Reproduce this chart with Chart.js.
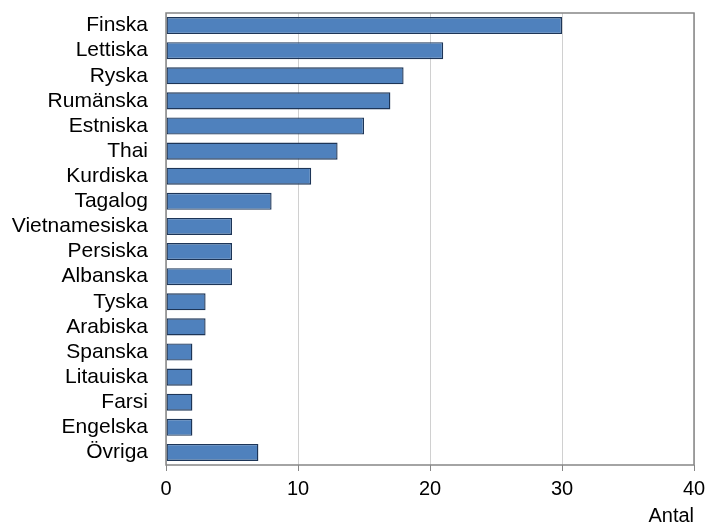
<!DOCTYPE html>
<html>
<head>
<meta charset="utf-8">
<script src="https://cdn.jsdelivr.net/npm/chart.js@4"></script>
<style>
html,body{margin:0;padding:0;background:#fff;}
#wrap{width:710px;height:526px;position:relative;}
</style>
</head>
<body>
<div id="wrap"><canvas id="c"></canvas></div>
<script>
const categories = ["Finska","Lettiska","Ryska","Rumänska","Estniska","Thai","Kurdiska","Tagalog","Vietnamesiska","Persiska","Albanska","Tyska","Arabiska","Spanska","Litauiska","Farsi","Engelska","Övriga"];
const values = [30,21,18,17,15,13,11,8,5,5,5,3,3,2,2,2,2,7];
const xTicks = [0,10,20,30,40];
const xTitle = "Antal";

const FONT = "'Liberation Sans', Arial, sans-serif";

const boxPlugin = {
  id: 'box',
  afterDatasetsDraw(chart) {
    const a = chart.chartArea, ctx = chart.ctx;
    ctx.save();
    ctx.strokeStyle = '#868686';
    ctx.lineWidth = 1.5;
    ctx.strokeRect(a.left, a.top, a.right - a.left, a.bottom - a.top);
    ctx.restore();
  }
};

new Chart(document.getElementById('c'), {
  type: 'bar',
  data: {
    labels: categories,
    datasets: [{
      data: values,
      backgroundColor: '#4f81bd',
      borderColor: '#1d3557',
      borderWidth: 1.4,
      borderSkipped: false,
      categoryPercentage: 1,
      barPercentage: 0.68
    }]
  },
  options: {
    indexAxis: 'y',
    responsive: true,
    maintainAspectRatio: false,
    animation: false,
    layout: { padding: { top: 13, right: 16, bottom: 0, left: 0 } },
    plugins: { legend: { display: false }, tooltip: { enabled: false } },
    scales: {
      x: {
        type: 'linear',
        min: 0, max: 40,
        afterBuildTicks(scale) { scale.ticks = xTicks.map(v => ({ value: v })); },
        afterFit(scale) { scale.height = 61; scale.paddingLeft = 0; scale.paddingRight = 0; },
        grid: { color: '#d0d0d0', lineWidth: 1, drawTicks: true, tickLength: 6, tickColor: '#868686' },
        border: { display: false },
        ticks: { color: '#000', font: { family: FONT, size: 20 }, padding: 6, maxRotation: 0 },
        title: { display: true, text: xTitle, align: 'end', color: '#000', font: { family: FONT, size: 20 }, padding: { top: 0, bottom: -2 } }
      },
      y: {
        type: 'category',
        offset: true,
        afterFit(scale) { scale.width = 166; scale.paddingTop = 0; scale.paddingBottom = 0; },
        grid: { display: false, drawTicks: false },
        border: { display: false },
        ticks: { color: '#000', font: { family: FONT, size: 21 }, padding: 18, autoSkip: false }
      }
    }
  },
  plugins: [boxPlugin]
});
</script>
</body>
</html>
